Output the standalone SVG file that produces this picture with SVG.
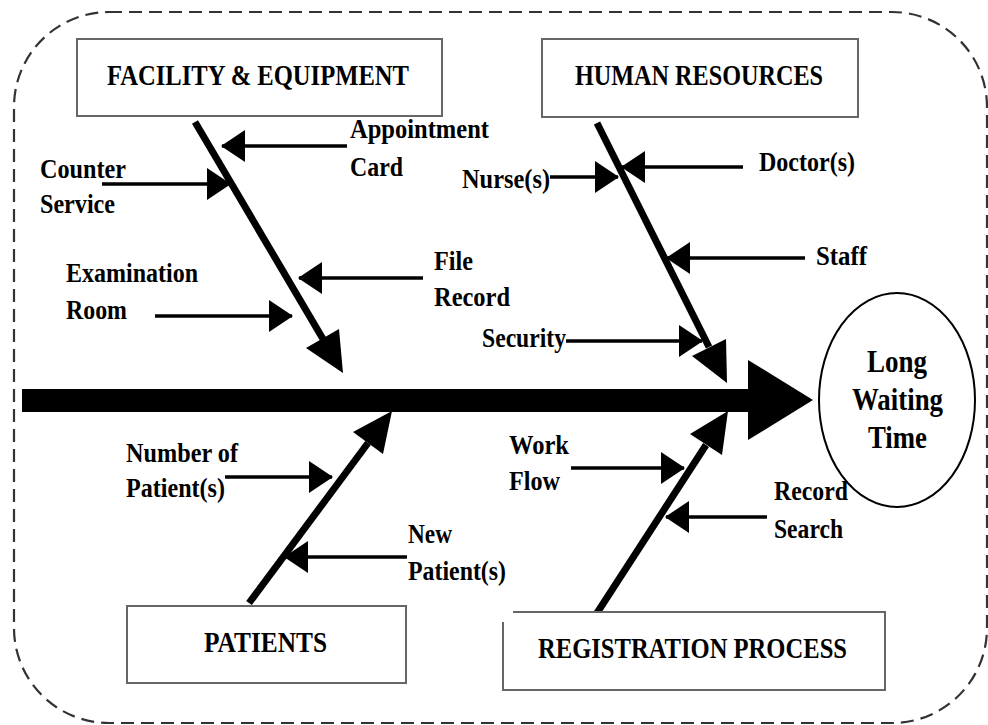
<svg xmlns="http://www.w3.org/2000/svg" width="988" height="725" viewBox="0 0 988 725">
<defs>
<style>
.t{font-family:"Liberation Serif","Times New Roman",serif;font-weight:bold;fill:#000}
.lb{font-size:28px}
.tt{font-size:30px}
.ct{font-size:32px}
.box{fill:#fff;stroke:#666;stroke-width:2}
.sub{stroke:#000;stroke-width:3.5;fill:none;marker-end:url(#ah)}
.bone{stroke:#000;stroke-width:7;fill:none}
</style>
<marker id="ah" markerUnits="userSpaceOnUse" viewBox="0 0 24 32" markerWidth="24" markerHeight="32" refX="23" refY="16" orient="auto">
<path d="M0,0 L24,16 L0,32 Z" fill="#000"/>
</marker>
</defs>
<rect x="14" y="12" width="973" height="711" rx="95" ry="95" fill="none" stroke="#333" stroke-width="2.2" stroke-dasharray="13,7"/>

<g id="connectors">
<rect x="22" y="389" width="728" height="23" fill="#000"/>
<polygon points="748,360 813,400 748,440" fill="#000"/>
<line class="bone" x1="195" y1="122" x2="323" y2="339"/>
<polygon points="339,329 306,348 343,373" fill="#000"/>
<line class="bone" x1="597" y1="123" x2="709" y2="347"/>
<polygon points="726,339 692,356 727,383" fill="#000"/>
<line class="bone" x1="249" y1="603" x2="368" y2="443"/>
<polygon points="383,454 353,432 392,411" fill="#000"/>
<line class="bone" x1="597" y1="613" x2="706" y2="445"/>
<polygon points="722,455 690,434 728,411" fill="#000"/>
<path class="sub" d="M347,146 H222"/>
<path class="sub" d="M102,184 H230"/>
<path class="sub" d="M423,278 H299"/>
<path class="sub" d="M155,316 H292"/>
<path class="sub" d="M550,177 H618"/>
<path class="sub" d="M743,167 H622"/>
<path class="sub" d="M805,258 H667"/>
<path class="sub" d="M566,341 H702"/>
<path class="sub" d="M225,477 H332"/>
<path class="sub" d="M407,557 H285"/>
<path class="sub" d="M571,468 H684"/>
<path class="sub" d="M767,517 H666"/>
</g>

<g id="facility">
<rect class="box" x="77" y="39" width="365" height="77"/>
<text class="t tt" x="107" y="85" textLength="302" lengthAdjust="spacingAndGlyphs">FACILITY &amp; EQUIPMENT</text>
</g>
<g id="human">
<rect class="box" x="542" y="39" width="316" height="78"/>
<text class="t tt" x="575" y="85" textLength="248" lengthAdjust="spacingAndGlyphs">HUMAN RESOURCES</text>
</g>
<g id="patients">
<rect class="box" x="127" y="606" width="279" height="77"/>
<text class="t tt" x="204" y="652" textLength="123" lengthAdjust="spacingAndGlyphs">PATIENTS</text>
</g>
<g id="registration">
<path class="box" fill="#fff" d="M513,612 H885 V690 H503 V622"/>
<text class="t tt" x="538" y="658" textLength="309" lengthAdjust="spacingAndGlyphs">REGISTRATION PROCESS</text>
</g>
<g id="effect">
<ellipse cx="897" cy="400" rx="78" ry="107" fill="#fff" stroke="#000" stroke-width="2"/>
<text class="t ct" x="867" y="372" textLength="60" lengthAdjust="spacingAndGlyphs">Long</text>
<text class="t ct" x="852" y="410" textLength="91" lengthAdjust="spacingAndGlyphs">Waiting</text>
<text class="t ct" x="868" y="448" textLength="59" lengthAdjust="spacingAndGlyphs">Time</text>
</g>

<g id="labels">
<text class="t lb" x="350" y="138" textLength="139" lengthAdjust="spacingAndGlyphs">Appointment</text>
<text class="t lb" x="350" y="176" textLength="53" lengthAdjust="spacingAndGlyphs">Card</text>
<text class="t lb" x="40" y="178" textLength="86" lengthAdjust="spacingAndGlyphs">Counter</text>
<text class="t lb" x="40" y="213" textLength="75" lengthAdjust="spacingAndGlyphs">Service</text>
<text class="t lb" x="66" y="282" textLength="132" lengthAdjust="spacingAndGlyphs">Examination</text>
<text class="t lb" x="66" y="319" textLength="61" lengthAdjust="spacingAndGlyphs">Room</text>
<text class="t lb" x="434" y="270" textLength="39" lengthAdjust="spacingAndGlyphs">File</text>
<text class="t lb" x="434" y="306" textLength="76" lengthAdjust="spacingAndGlyphs">Record</text>
<text class="t lb" x="462" y="188" textLength="88" lengthAdjust="spacingAndGlyphs">Nurse(s)</text>
<text class="t lb" x="759" y="171" textLength="96" lengthAdjust="spacingAndGlyphs">Doctor(s)</text>
<text class="t lb" x="816" y="265" textLength="51" lengthAdjust="spacingAndGlyphs">Staff</text>
<text class="t lb" x="482" y="347" textLength="84" lengthAdjust="spacingAndGlyphs">Security</text>
<text class="t lb" x="126" y="462" textLength="112" lengthAdjust="spacingAndGlyphs">Number of</text>
<text class="t lb" x="126" y="497" textLength="99" lengthAdjust="spacingAndGlyphs">Patient(s)</text>
<text class="t lb" x="408" y="543" textLength="44" lengthAdjust="spacingAndGlyphs">New</text>
<text class="t lb" x="408" y="580" textLength="98" lengthAdjust="spacingAndGlyphs">Patient(s)</text>
<text class="t lb" x="509" y="454" textLength="60" lengthAdjust="spacingAndGlyphs">Work</text>
<text class="t lb" x="509" y="490" textLength="51" lengthAdjust="spacingAndGlyphs">Flow</text>
<text class="t lb" x="774" y="500" textLength="74" lengthAdjust="spacingAndGlyphs">Record</text>
<text class="t lb" x="774" y="538" textLength="69" lengthAdjust="spacingAndGlyphs">Search</text>
</g>
</svg>
